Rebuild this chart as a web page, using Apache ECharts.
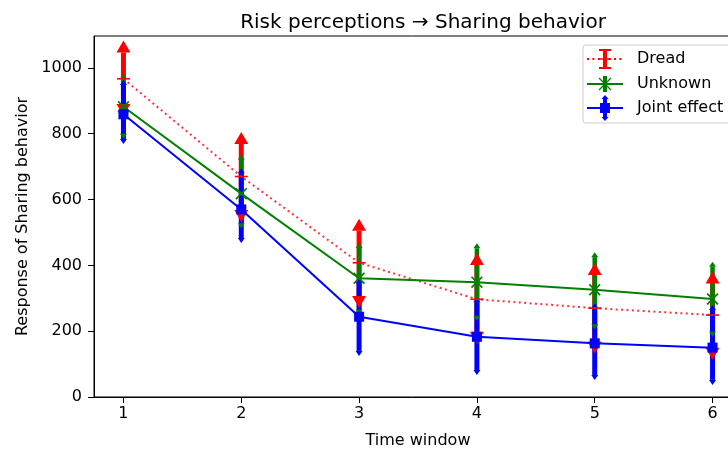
<!DOCTYPE html>
<html><head><meta charset="utf-8">
<script src="https://cdn.jsdelivr.net/npm/echarts@6/dist/echarts.min.js"></script>
<style>html,body{margin:0;padding:0;background:#fff}#c{width:728px;height:451px}</style>
</head><body><div id="c"></div>
<script>
const timeWindows = [1, 2, 3, 4, 5, 6];
const yTicks = [0, 200, 400, 600, 800, 1000];
const seriesNames = ['Dread', 'Unknown', 'Joint effect'];
const dreadMean  = [967, 670, 408, 297, 270, 249];
const dreadUpper = [1047, 769, 505, 401, 371, 345];
const dreadLower = [890, 568, 307, 198, 169, 150];
const unknownMean  = [882, 618, 361, 349, 326, 298];
const unknownUpper = [968, 722, 453, 452, 425, 396];
const unknownLower = [800, 528, 266, 247, 221, 198];
const jointMean  = [859, 570, 244, 183, 163, 150];
const jointUpper = [948, 680, 346, 288, 270, 264];
const jointLower = [784, 483, 140, 82, 67, 52];

const FONT = 'DejaVu Sans';
const RED = '#ff0000', GREEN = '#008000', BLUE = '#0000ff';
const XPATH = 'path://M0,1L1,0L5,4L9,0L10,1L6,5L10,9L9,10L5,6L1,10L0,9L4,5Z';

function errData(lower, upper) {
  return timeWindows.map((t, i) => [t, lower[i], upper[i]]);
}
function barSeries(color, width, lower, upper) {
  return {
    type: 'custom', z: 2, silent: true,
    data: errData(lower, upper),
    encode: { x: 0, y: [1, 2] },
    renderItem: (params, api) => {
      const p0 = api.coord([api.value(0), api.value(1)]);
      const p1 = api.coord([api.value(0), api.value(2)]);
      return { type: 'line', shape: { x1: p0[0], y1: p0[1], x2: p1[0], y2: p1[1] },
        style: { stroke: color, lineWidth: width } };
    }
  };
}
function capSeries(color, w, h, lower, upper) {
  return {
    type: 'custom', z: 3, silent: true,
    data: errData(lower, upper),
    encode: { x: 0, y: [1, 2] },
    renderItem: (params, api) => {
      const lo = api.coord([api.value(0), api.value(1)]);
      const up = api.coord([api.value(0), api.value(2)]);
      return { type: 'group', children: [
        { type: 'polygon', shape: { points: [[up[0] - w / 2, up[1]], [up[0] + w / 2, up[1]], [up[0], up[1] - h]] },
          style: { fill: color } },
        { type: 'polygon', shape: { points: [[lo[0] - w / 2, lo[1]], [lo[0] + w / 2, lo[1]], [lo[0], lo[1] + h]] },
          style: { fill: color } }
      ] };
    }
  };
}
function pairs(arr) { return timeWindows.map((t, i) => [t, arr[i]]); }

const chart = echarts.init(document.getElementById('c'), null, { renderer: 'canvas' });

function ltext(y, s) {
  return { type: 'text', x: 637, y: y, z: 11,
    style: { text: s, fontFamily: FONT, fontSize: 16, fill: '#000', verticalAlign: 'middle', align: 'left' } };
}
const LX = 587, LX2 = 623, LC = 605;
const legendGraphic = [
  { type: 'rect', shape: { x: 583, y: 45, width: 160, height: 78, r: 3 },
    style: { fill: 'rgba(255,255,255,0.8)', stroke: '#cccccc', lineWidth: 1 }, z: 10 },
  // Dread
  { type: 'line', shape: { x1: LX, y1: 59, x2: LX2, y2: 59 }, style: { stroke: RED, lineWidth: 2, lineDash: [2, 3.4] }, z: 11 },
  { type: 'line', shape: { x1: LC, y1: 50, x2: LC, y2: 68 }, style: { stroke: RED, lineWidth: 4 }, z: 11 },
  { type: 'line', shape: { x1: LC - 6, y1: 50, x2: LC + 6, y2: 50 }, style: { stroke: RED, lineWidth: 2 }, z: 11 },
  { type: 'line', shape: { x1: LC - 6, y1: 68, x2: LC + 6, y2: 68 }, style: { stroke: RED, lineWidth: 2 }, z: 11 },
  { type: 'line', shape: { x1: LC - 6, y1: 59, x2: LC + 6, y2: 59 }, style: { stroke: RED, lineWidth: 1.5 }, z: 11 },
  ltext(59, seriesNames[0]),
  // Unknown
  { type: 'line', shape: { x1: LX, y1: 84, x2: LX2, y2: 84 }, style: { stroke: GREEN, lineWidth: 2 }, z: 11 },
  { type: 'line', shape: { x1: LC, y1: 76, x2: LC, y2: 92 }, style: { stroke: GREEN, lineWidth: 4 }, z: 11 },
  { type: 'line', shape: { x1: LC - 6, y1: 78, x2: LC + 6, y2: 90 }, style: { stroke: GREEN, lineWidth: 1.3 }, z: 11 },
  { type: 'line', shape: { x1: LC + 6, y1: 78, x2: LC - 6, y2: 90 }, style: { stroke: GREEN, lineWidth: 1.3 }, z: 11 },
  ltext(84, seriesNames[1]),
  // Joint effect
  { type: 'line', shape: { x1: LX, y1: 108, x2: LX2, y2: 108 }, style: { stroke: BLUE, lineWidth: 2 }, z: 11 },
  { type: 'line', shape: { x1: LC, y1: 99, x2: LC, y2: 117 }, style: { stroke: BLUE, lineWidth: 4 }, z: 11 },
  { type: 'polygon', shape: { points: [[LC - 3.5, 99], [LC + 3.5, 99], [LC, 95]] }, style: { fill: BLUE }, z: 11 },
  { type: 'polygon', shape: { points: [[LC - 3.5, 117], [LC + 3.5, 117], [LC, 121]] }, style: { fill: BLUE }, z: 11 },
  { type: 'rect', shape: { x: LC - 5, y: 103, width: 10, height: 10 }, style: { fill: BLUE }, z: 11 },
  ltext(108, seriesNames[2])
];

const option = {
  backgroundColor: '#fff',
  animation: false,
  textStyle: { fontFamily: FONT },
  title: {
    text: 'Risk perceptions \u2192 Sharing behavior',
    left: 418, top: 8, textAlign: 'center',
    textStyle: { fontFamily: FONT, fontSize: 20, fontWeight: 'normal', color: '#000' }
  },
  grid: { left: 94, top: 36, width: 648, height: 361, outerBoundsMode: 'none', containLabel: false,
    show: true, borderColor: '#000', borderWidth: 1, backgroundColor: 'transparent' },
  xAxis: {
    type: 'value', min: 0.75, max: 6.25,
    name: 'Time window', nameLocation: 'middle', nameGap: 36,
    nameTextStyle: { fontFamily: FONT, fontSize: 16, color: '#000' },
    axisLine: { show: true, lineStyle: { color: '#000', width: 1 } },
    axisTick: { show: true, length: 6, lineStyle: { color: '#000' }, customValues: timeWindows },
    axisLabel: { show: true, margin: 9, fontFamily: FONT, fontSize: 16, color: '#000', customValues: timeWindows, formatter: v => String(v) },
    splitLine: { show: false }
  },
  yAxis: {
    type: 'value', min: 0, max: 1097,
    name: 'Response of Sharing behavior', nameLocation: 'middle', nameGap: 63, nameRotate: 90,
    nameTextStyle: { fontFamily: FONT, fontSize: 16, color: '#000' },
    axisLine: { show: true, lineStyle: { color: '#000', width: 1 } },
    axisTick: { show: true, length: 6, lineStyle: { color: '#000' }, customValues: yTicks },
    axisLabel: { show: true, margin: 12, fontFamily: FONT, fontSize: 16, color: '#000', customValues: yTicks, formatter: v => String(v) },
    splitLine: { show: false }
  },
  series: [
    barSeries(RED, 5, dreadLower, dreadUpper),
    barSeries(GREEN, 4.5, unknownLower, unknownUpper),
    barSeries(BLUE, 5, jointLower, jointUpper),
    capSeries(RED, 14, 12, dreadLower, dreadUpper),
    capSeries(GREEN, 7, 5, unknownLower, unknownUpper),
    capSeries(BLUE, 7, 5, jointLower, jointUpper),
    { type: 'line', name: seriesNames[0], z: 4, data: pairs(dreadMean),
      lineStyle: { color: RED, width: 2, type: [2, 3.4], opacity: 0.8 },
      symbol: 'rect', symbolSize: [13, 1.6], showSymbol: true,
      itemStyle: { color: RED } },
    { type: 'line', name: seriesNames[1], z: 4, data: pairs(unknownMean),
      lineStyle: { color: GREEN, width: 2 },
      symbol: XPATH, symbolSize: 12, showSymbol: true,
      itemStyle: { color: GREEN } },
    { type: 'line', name: seriesNames[2], z: 4, data: pairs(jointMean),
      lineStyle: { color: BLUE, width: 2 },
      symbol: 'rect', symbolSize: 10, showSymbol: true,
      itemStyle: { color: BLUE } }
  ],
  graphic: legendGraphic
};
chart.setOption(option);
</script>
</body></html>
